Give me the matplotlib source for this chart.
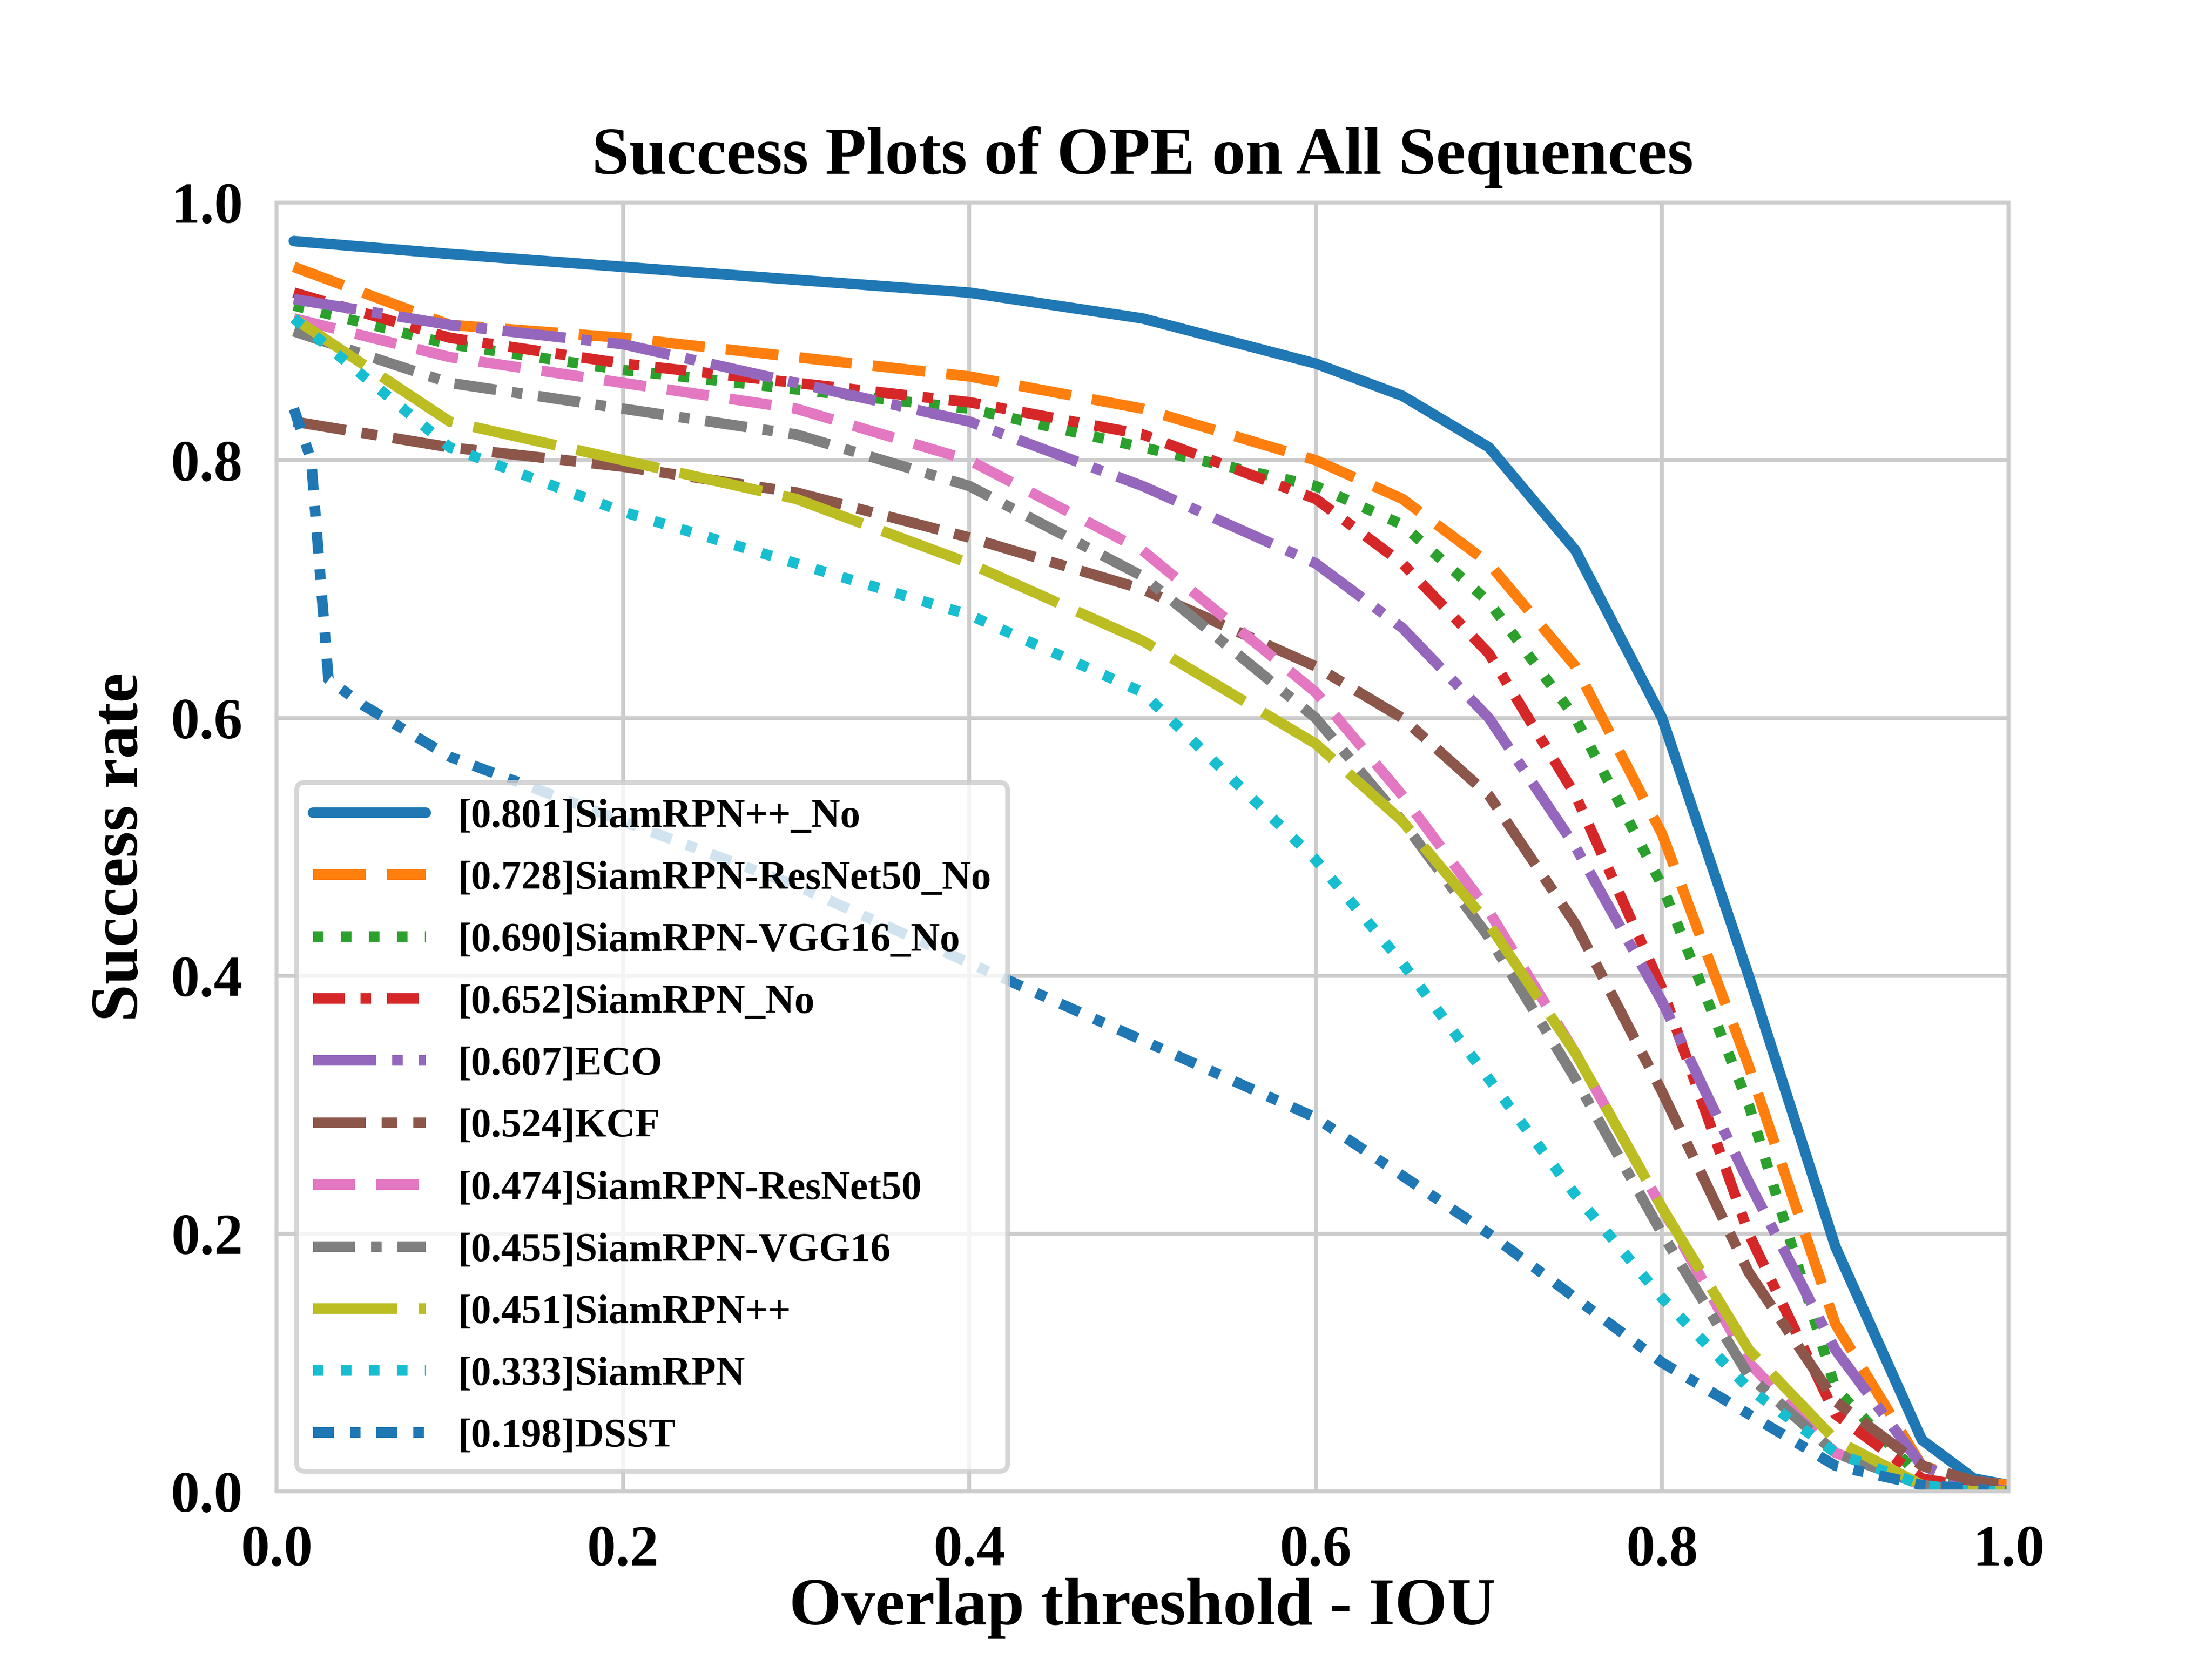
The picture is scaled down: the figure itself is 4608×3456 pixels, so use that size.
import matplotlib
matplotlib.use("Agg")
import matplotlib.pyplot as plt
import seaborn as sns

sns.set_style("whitegrid")
plt.rcParams['font.family'] = ['Liberation Serif', 'DejaVu Serif']
plt.rcParams['font.weight'] = 'bold'
plt.rcParams['text.color'] = 'black'
plt.rcParams['axes.labelcolor'] = 'black'
plt.rcParams['xtick.color'] = 'black'
plt.rcParams['ytick.color'] = 'black'

labels = ["[0.801]SiamRPN++_No", "[0.728]SiamRPN-ResNet50_No", "[0.690]SiamRPN-VGG16_No",
          "[0.652]SiamRPN_No", "[0.607]ECO", "[0.524]KCF", "[0.474]SiamRPN-ResNet50",
          "[0.455]SiamRPN-VGG16", "[0.451]SiamRPN++", "[0.333]SiamRPN", "[0.198]DSST"]
colors = ["#1f77b4", "#ff7f0e", "#2ca02c", "#d62728", "#9467bd", "#8c564b", "#e377c2",
          "#7f7f7f", "#bcbd22", "#17becf", "#1f77b4"]

xs = [0.01, 0.1, 0.2, 0.3, 0.4, 0.5, 0.6, 0.65, 0.7, 0.75, 0.8, 0.85, 0.9, 0.95, 0.98, 1.0]
ys = [
    [0.97, 0.96, 0.95, 0.94, 0.93, 0.91, 0.875, 0.85, 0.81, 0.73, 0.60, 0.40, 0.19, 0.04, 0.01, 0.005],
    [0.95, 0.905, 0.895, 0.88, 0.865, 0.84, 0.80, 0.77, 0.72, 0.64, 0.51, 0.33, 0.13, 0.02, 0.008, 0.005],
    [0.92, 0.89, 0.87, 0.855, 0.84, 0.81, 0.78, 0.75, 0.69, 0.60, 0.47, 0.30, 0.08, 0.01, 0.003, 0.0],
    [0.93, 0.895, 0.875, 0.86, 0.845, 0.82, 0.77, 0.72, 0.65, 0.54, 0.39, 0.20, 0.06, 0.01, 0.003, 0.0],
    [0.925, 0.905, 0.89, 0.86, 0.83, 0.78, 0.72, 0.67, 0.60, 0.50, 0.38, 0.24, 0.11, 0.02, 0.005, 0.0],
    [0.83, 0.81, 0.795, 0.775, 0.74, 0.70, 0.64, 0.60, 0.54, 0.44, 0.31, 0.17, 0.07, 0.02, 0.008, 0.005],
    [0.91, 0.88, 0.86, 0.84, 0.80, 0.73, 0.62, 0.54, 0.45, 0.34, 0.22, 0.10, 0.03, 0.005, 0.0, 0.0],
    [0.90, 0.86, 0.84, 0.82, 0.78, 0.71, 0.60, 0.52, 0.43, 0.32, 0.20, 0.09, 0.03, 0.005, 0.0, 0.0],
    [0.91, 0.83, 0.80, 0.77, 0.72, 0.66, 0.58, 0.52, 0.44, 0.34, 0.22, 0.11, 0.04, 0.005, 0.0, 0.0],
    [0.91, 0.81, 0.76, 0.72, 0.68, 0.62, 0.49, 0.41, 0.32, 0.23, 0.15, 0.08, 0.03, 0.005, 0.0, 0.0],
]
dsst_x = [0.01, 0.02, 0.03, 0.05, 0.1, 0.2, 0.3, 0.4, 0.5, 0.6, 0.7, 0.8, 0.85, 0.9, 0.95, 1.0]
dsst_y = [0.84, 0.80, 0.63, 0.61, 0.57, 0.52, 0.47, 0.41, 0.35, 0.29, 0.20, 0.10, 0.06, 0.02, 0.005, 0.0]

styles = ['-', (0, (5, 2)), ':', (0, (3, 1.5, 1, 1.5)), (0, (6, 1.5, 1, 1.5)),
          (0, (5, 1.5, 1.5, 1.5)), (0, (4, 2)), (0, (4, 1.5, 1, 1.5)), (0, (8, 2)), ':',
          (0, (2, 1.5, 1, 1.5))]

fig = plt.figure(figsize=(6.4, 4.8), dpi=720)
ax = fig.add_subplot(111)
fig.subplots_adjust(left=0.125, right=0.908, bottom=0.101, top=0.878)
for i in range(10):
    ax.plot(xs, ys[i], color=colors[i], linestyle=styles[i], lw=2.2, label=labels[i])
ax.plot(dsst_x, dsst_y, color=colors[10], linestyle=styles[10], lw=2.2, label=labels[10])
ax.set_xlim(0, 1)
ax.set_ylim(0, 1)
ax.set_xticks([0, 0.2, 0.4, 0.6, 0.8, 1.0])
ax.set_yticks([0, 0.2, 0.4, 0.6, 0.8, 1.0])
ax.set_xticklabels(["0.0", "0.2", "0.4", "0.6", "0.8", "1.0"], fontsize=12, fontweight='bold')
ax.set_yticklabels(["0.0", "0.2", "0.4", "0.6", "0.8", "1.0"], fontsize=12, fontweight='bold')
ax.set_xlabel("Overlap threshold - IOU", fontsize=14, fontweight='bold', labelpad=0)
ax.set_ylabel("Success rate", fontsize=14, fontweight='bold')
ax.set_title("Success Plots of OPE on All Sequences", fontsize=14, fontweight='bold')
leg = ax.legend(loc='lower left', bbox_to_anchor=(0.0, 0.0), prop={'size': 8.4, 'weight': 'bold'},
                frameon=True, handlelength=2.8, labelspacing=0.62)
for s in ax.spines.values():
    s.set_color('#cccccc')
fig.savefig("out.png", dpi=720)
